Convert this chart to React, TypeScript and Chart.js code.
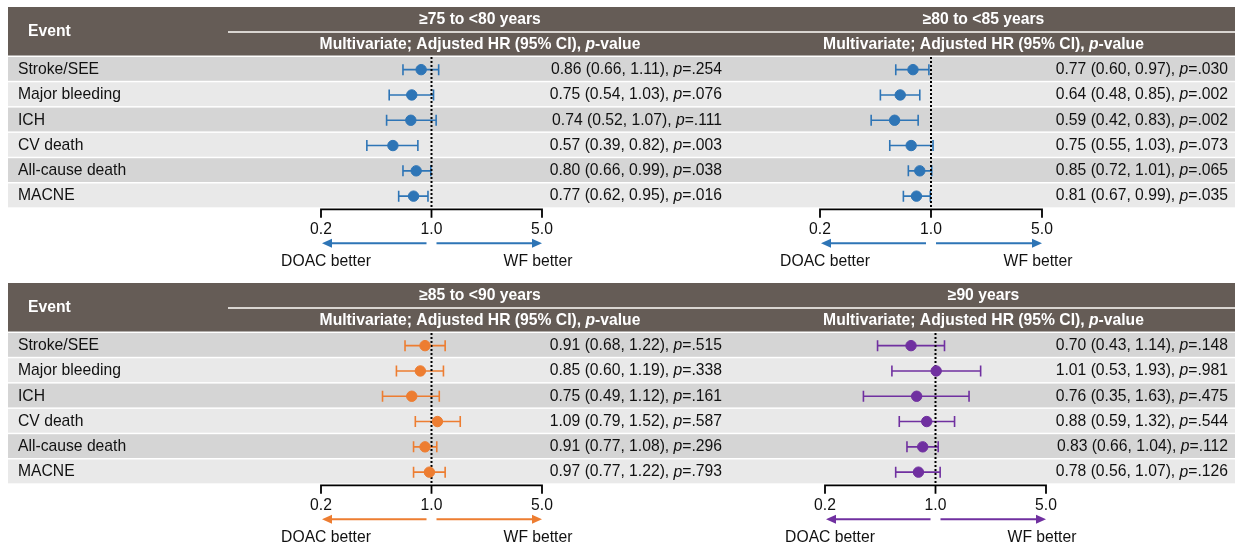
import React, { useEffect, useRef } from 'react';
import { Chart, registerables } from 'chart.js';

Chart.register(...registerables);

// ---------------- data ----------------
const EVENTS = ['Stroke/SEE', 'Major bleeding', 'ICH', 'CV death', 'All-cause death', 'MACNE'];

const AXIS_TICKS = [0.2, 1.0, 5.0];
const AXIS_TICK_LABELS = ['0.2', '1.0', '5.0'];
const AXIS_MIN = 0.2;
const AXIS_MAX = 5.0;

const TITLES = ['≥75 to <80 years', '≥80 to <85 years', '≥85 to <90 years', '≥90 years'];
const SUBTITLE = 'Multivariate; Adjusted HR (95% CI), ';
const SIDE_LABELS = ['DOAC better', 'WF better'];

const HR_75_80 = [0.86, 0.75, 0.74, 0.57, 0.80, 0.77];
const LO_75_80 = [0.66, 0.54, 0.52, 0.39, 0.66, 0.62];
const HI_75_80 = [1.11, 1.03, 1.07, 0.82, 0.99, 0.95];
const P_75_80 = ['.254', '.076', '.111', '.003', '.038', '.016'];

const HR_80_85 = [0.77, 0.64, 0.59, 0.75, 0.85, 0.81];
const LO_80_85 = [0.60, 0.48, 0.42, 0.55, 0.72, 0.67];
const HI_80_85 = [0.97, 0.85, 0.83, 1.03, 1.01, 0.99];
const P_80_85 = ['.030', '.002', '.002', '.073', '.065', '.035'];

const HR_85_90 = [0.91, 0.85, 0.75, 1.09, 0.91, 0.97];
const LO_85_90 = [0.68, 0.60, 0.49, 0.79, 0.77, 0.77];
const HI_85_90 = [1.22, 1.19, 1.12, 1.52, 1.08, 1.22];
const P_85_90 = ['.515', '.338', '.161', '.587', '.296', '.793'];

const HR_90 = [0.70, 1.01, 0.76, 0.88, 0.83, 0.78];
const LO_90 = [0.43, 0.53, 0.35, 0.59, 0.66, 0.56];
const HI_90 = [1.14, 1.93, 1.63, 1.32, 1.04, 1.07];
const P_90 = ['.148', '.981', '.475', '.544', '.112', '.126'];

const PANEL_COLORS = ['#2e75b6', '#2e75b6', '#ed7d31', '#7030a0'];

const PANELS = [
  { hr: HR_75_80, lo: LO_75_80, hi: HI_75_80, p: P_75_80 },
  { hr: HR_80_85, lo: LO_80_85, hi: HI_80_85, p: P_80_85 },
  { hr: HR_85_90, lo: LO_85_90, hi: HI_85_90, p: P_85_90 },
  { hr: HR_90, lo: LO_90, hi: HI_90, p: P_90 },
];

// ---------------- layout ----------------
const W = 1237;
const H = 548;
const BLOCK_TOPS = [7, 283];
const TABLE_LEFT = 8;
const TABLE_RIGHT = 1235;
const HEADER_H = 48.5;
const ROW_OFFSET = 50;
const ROW_PITCH = 25.3;
const ROW_H = 23.8;
const SUBLINE_LEFT = 228;
const COL_SPANS = [[228, 732], [732, 1235]];
const AXIS_PX = [[321, 542], [820, 1042], [321, 542], [825, 1046]];
const TEXT_RIGHT = [722, 1228];
const HEADER_BG = '#655c56';
const ROW_DARK = '#d5d5d5';
const ROW_LIGHT = '#e9e9e9';
const FONT = '"Liberation Sans", Arial, Helvetica, sans-serif';
const FS = 15.7;

type Run = { t: string; italic?: boolean };

function fontOf(bold: boolean, italic: boolean) {
  return `${italic ? 'italic ' : ''}${bold ? 'bold ' : ''}${FS}px ${FONT}`;
}

function drawRuns(ctx: CanvasRenderingContext2D, runs: Run[], x: number, y: number, align: 'left' | 'right' | 'center', bold: boolean, color: string) {
  ctx.textBaseline = 'middle';
  ctx.textAlign = 'left';
  ctx.fillStyle = color;
  const widths = runs.map((r) => {
    ctx.font = fontOf(bold, !!r.italic);
    return ctx.measureText(r.t).width;
  });
  const total = widths.reduce((a, b) => a + b, 0);
  let cx = align === 'left' ? x : align === 'right' ? x - total : x - total / 2;
  runs.forEach((r, i) => {
    ctx.font = fontOf(bold, !!r.italic);
    ctx.fillText(r.t, cx, y);
    cx += widths[i];
  });
}

const tablePlugin = {
  id: 'forestTable',
  afterLayout(chart: any) {
    PANELS.forEach((_, k) => {
      const s = chart.scales['x' + k];
      const [l, r] = AXIS_PX[k];
      s.left = l;
      s.right = r;
      s.width = r - l;
      s.configure();
    });
    ['yTop', 'yBot'].forEach((id, b) => {
      const s = chart.scales[id];
      const top = BLOCK_TOPS[b] + ROW_OFFSET;
      s.top = top;
      s.bottom = top + ROW_PITCH * EVENTS.length;
      s.height = ROW_PITCH * EVENTS.length;
      s.configure();
    });
  },
  beforeDatasetsDraw(chart: any) {
    const ctx: CanvasRenderingContext2D = chart.ctx;
    ctx.save();
    ctx.fillStyle = '#ffffff';
    ctx.fillRect(0, 0, W, H);

    BLOCK_TOPS.forEach((top, b) => {
      // header band
      ctx.fillStyle = HEADER_BG;
      ctx.fillRect(TABLE_LEFT, top, TABLE_RIGHT - TABLE_LEFT, HEADER_H);
      ctx.strokeStyle = '#d9d5d1';
      ctx.lineWidth = 2;
      ctx.beginPath();
      ctx.moveTo(SUBLINE_LEFT, top + 25);
      ctx.lineTo(TABLE_RIGHT, top + 25);
      ctx.stroke();
      drawRuns(ctx, [{ t: 'Event' }], 28, top + 25, 'left', true, '#ffffff');
      COL_SPANS.forEach(([l, r], c) => {
        const cx = (l + r) / 2;
        drawRuns(ctx, [{ t: TITLES[b * 2 + c] }], cx, top + 12.5, 'center', true, '#ffffff');
        drawRuns(ctx, [{ t: SUBTITLE }, { t: 'p', italic: true }, { t: '-value' }], cx, top + 37.5, 'center', true, '#ffffff');
      });
      // rows
      const ys = chart.scales[b === 0 ? 'yTop' : 'yBot'];
      EVENTS.forEach((ev, i) => {
        const y0 = top + ROW_OFFSET + i * ROW_PITCH;
        ctx.fillStyle = i % 2 === 0 ? ROW_DARK : ROW_LIGHT;
        ctx.fillRect(TABLE_LEFT, y0, TABLE_RIGHT - TABLE_LEFT, ROW_H);
        const yc = ys.getPixelForValue(i);
        drawRuns(ctx, [{ t: ev }], 18, yc, 'left', false, '#111111');
      });
    });

    PANELS.forEach((p, k) => {
      const b = k >> 1;
      const c = k & 1;
      const color = PANEL_COLORS[k];
      const xs = chart.scales['x' + k];
      const ys = chart.scales[b === 0 ? 'yTop' : 'yBot'];
      // value texts
      EVENTS.forEach((_, i) => {
        const yc = ys.getPixelForValue(i);
        const txt = `${p.hr[i].toFixed(2)} (${p.lo[i].toFixed(2)}, ${p.hi[i].toFixed(2)}), `;
        drawRuns(ctx, [{ t: txt }, { t: 'p', italic: true }, { t: '=' + p.p[i] }], TEXT_RIGHT[c], yc, 'right', false, '#111111');
      });
      // error bars
      ctx.strokeStyle = color;
      ctx.lineWidth = 1.6;
      EVENTS.forEach((_, i) => {
        const yc = ys.getPixelForValue(i);
        const xl = xs.getPixelForValue(p.lo[i]);
        const xh = xs.getPixelForValue(p.hi[i]);
        ctx.beginPath();
        ctx.moveTo(xl, yc);
        ctx.lineTo(xh, yc);
        ctx.moveTo(xl, yc - 5.5);
        ctx.lineTo(xl, yc + 5.5);
        ctx.moveTo(xh, yc - 5.5);
        ctx.lineTo(xh, yc + 5.5);
        ctx.stroke();
      });
      // axis
      const axisY = ys.bottom + 0.5;
      const x1 = xs.getPixelForValue(1);
      const xMin = xs.getPixelForValue(AXIS_MIN);
      const xMax = xs.getPixelForValue(AXIS_MAX);
      // dotted reference line
      ctx.strokeStyle = '#000000';
      ctx.lineWidth = 2;
      ctx.setLineDash([2, 2]);
      ctx.beginPath();
      ctx.moveTo(x1, ys.top);
      ctx.lineTo(x1, axisY);
      ctx.stroke();
      ctx.setLineDash([]);
      // bracket
      ctx.lineWidth = 1.8;
      ctx.beginPath();
      ctx.moveTo(xMin, axisY);
      ctx.lineTo(xMax, axisY);
      AXIS_TICKS.forEach((v) => {
        const tx = xs.getPixelForValue(v);
        ctx.moveTo(tx, axisY - 0.9);
        ctx.lineTo(tx, axisY + 8.5);
      });
      ctx.stroke();
      AXIS_TICKS.forEach((v, j) => {
        drawRuns(ctx, [{ t: AXIS_TICK_LABELS[j] }], xs.getPixelForValue(v), axisY + 20, 'center', false, '#111111');
      });
      // arrows
      const ay = axisY + 34;
      ctx.strokeStyle = color;
      ctx.fillStyle = color;
      ctx.lineWidth = 2;
      const arrow = (from: number, to: number) => {
        const dir = Math.sign(to - from);
        ctx.beginPath();
        ctx.moveTo(from, ay);
        ctx.lineTo(to - dir * 8, ay);
        ctx.stroke();
        ctx.beginPath();
        ctx.moveTo(to, ay);
        ctx.lineTo(to - dir * 10, ay - 4.5);
        ctx.lineTo(to - dir * 10, ay + 4.5);
        ctx.closePath();
        ctx.fill();
      };
      arrow(x1 - 5, xMin + 1);
      arrow(x1 + 5, xMax);
      drawRuns(ctx, [{ t: SIDE_LABELS[0] }], xMin + 5, axisY + 52, 'center', false, '#111111');
      drawRuns(ctx, [{ t: SIDE_LABELS[1] }], xMax - 4, axisY + 52, 'center', false, '#111111');
    });
    ctx.restore();
  },
};

export default function App() {
  const ref = useRef<HTMLCanvasElement>(null);
  useEffect(() => {
    if (!ref.current) return;
    const xScale = () => ({ type: 'logarithmic', min: AXIS_MIN, max: AXIS_MAX, display: false, axis: 'x', bounds: 'data' });
    const yScale = () => ({ type: 'category', labels: EVENTS, offset: true, display: false, axis: 'y' });
    const chart = new Chart(ref.current, {
      type: 'scatter',
      data: {
        datasets: PANELS.map((p, k) => ({
          label: TITLES[k],
          data: EVENTS.map((ev, i) => ({ x: p.hr[i], y: ev })),
          xAxisID: 'x' + k,
          yAxisID: k < 2 ? 'yTop' : 'yBot',
          backgroundColor: PANEL_COLORS[k],
          borderColor: PANEL_COLORS[k],
          borderWidth: 1,
          pointRadius: 5.2,
          pointHoverRadius: 5.2,
          clip: false,
        })),
      } as any,
      options: {
        responsive: false,
        maintainAspectRatio: false,
        animation: false,
        events: [],
        layout: { padding: 0 },
        plugins: { legend: { display: false }, tooltip: { enabled: false } },
        scales: {
          x0: xScale(),
          x1: xScale(),
          x2: xScale(),
          x3: xScale(),
          yTop: yScale(),
          yBot: yScale(),
        } as any,
      },
      plugins: [tablePlugin],
    } as any);
    return () => chart.destroy();
  }, []);
  return (
    <div style={{ position: 'absolute', left: 0, top: 0, width: W, height: H, background: '#ffffff' }}>
      <canvas ref={ref} width={W} height={H} style={{ display: 'block', width: W, height: H }} />
    </div>
  );
}
